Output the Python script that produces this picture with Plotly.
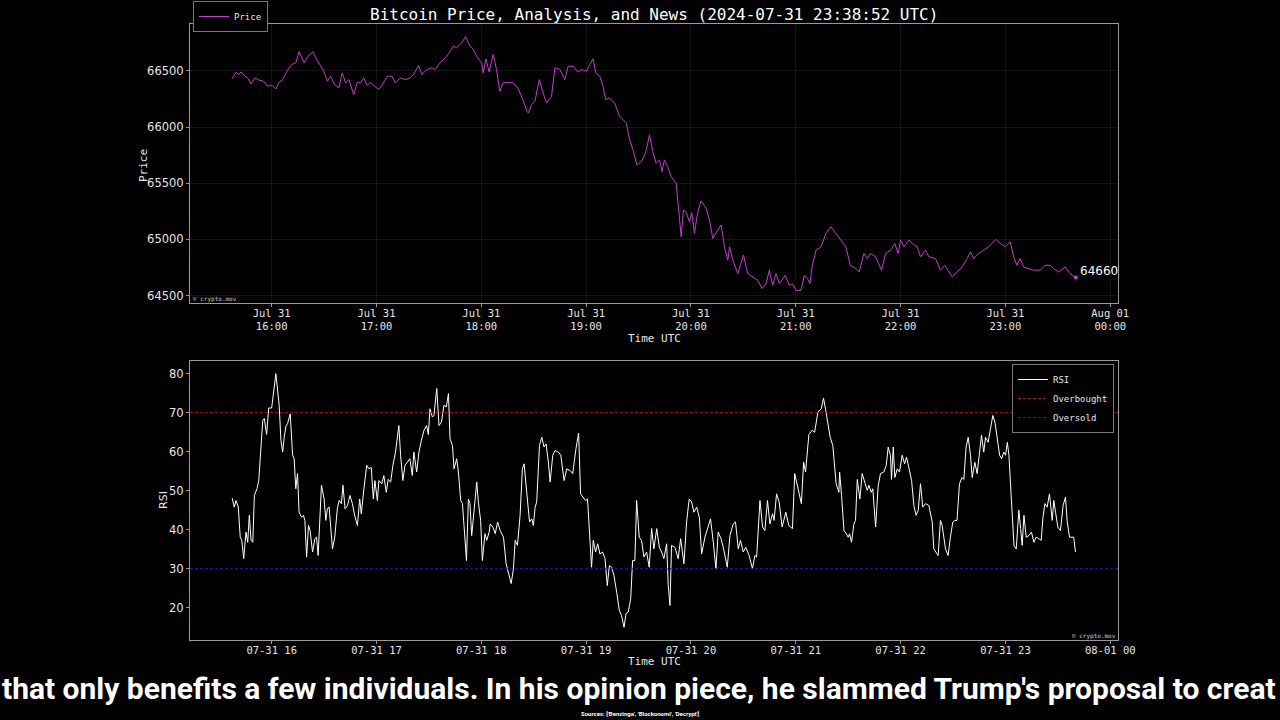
import pandas as pd
import plotly.graph_objects as go

W, H = 1280, 720
BASE = pd.Timestamp("2024-07-31 16:00")

# ---- data (minutes relative to 16:00 UTC) ----
price_min = [-22.6, -20.3, -19.0, -17.5, -15.6, -13.7, -11.8, -9.5, -7.0, -4.6, -2.3, 0.0, 2.4, 4.3, 6.3,
             9.1, 11.4, 13.8, 15.7, 18.6, 20.8, 23.7, 25.2, 27.1, 29.6, 31.9, 33.8, 36.0, 38.5, 40.4, 42.3,
             44.2, 47.0, 49.0, 50.9, 52.7, 54.7, 56.5, 59.4, 61.3, 63.2, 66.1, 68.9, 70.8, 73.6, 76.5, 79.3,
             81.2, 84.1, 86.0, 88.8, 91.7, 93.6, 96.4, 99.3, 101.7, 104.0, 105.9, 108.8, 111.0, 113.5, 115.4,
             117.3, 120.2, 121.1, 122.6, 124.5, 126.8, 128.7, 130.6, 132.5, 135.3, 138.2, 141.0, 143.8, 146.1,
             146.9, 148.8, 150.7, 153.2, 155.1, 157.3, 158.8, 160.2, 162.1, 165.0, 167.8, 169.7, 172.6, 175.4,
             177.3, 180.2, 182.1, 184.0, 185.5, 187.8, 189.7, 191.2, 193.1, 196.3, 199.2, 201.1, 203.0, 204.9,
             206.8, 209.1, 211.6, 214.0, 216.3, 218.2, 220.1, 222.0, 223.5, 224.8, 226.7, 228.6, 231.5, 233.0,
             234.4, 235.7, 237.2, 239.1, 240.5, 242.0, 243.9, 245.8, 248.7, 250.6, 252.5, 255.4, 257.3, 259.2,
             261.1, 262.1, 264.0, 266.8, 270.1, 272.5, 275.4, 278.2, 280.7, 283.0, 284.9, 286.8, 288.7, 290.6,
             294.0, 296.3, 298.2, 300.1, 303.0, 304.9, 306.8, 308.1, 309.3, 311.6, 314.4, 317.3, 320.1, 323.0,
             325.8, 328.7, 331.2, 334.4, 336.3, 339.0, 340.9, 342.8, 345.7, 349.1, 351.4, 354.3, 356.7, 358.6,
             360.0, 361.9, 364.8, 366.7, 369.5, 371.4, 374.3, 376.2, 380.0, 382.8, 385.3, 389.5, 392.4, 395.2,
             398.1, 400.0, 401.9, 404.7, 407.6, 410.4, 412.3, 414.6, 417.1, 420.0, 422.8, 424.7, 426.6, 428.5,
             430.4, 433.3, 436.1, 439.9, 442.8, 445.6, 447.5, 450.4, 454.2, 457.0, 460.3]
price_val = [66429, 66488, 66467, 66491, 66458, 66437, 66384, 66437, 66416, 66407, 66362, 66371, 66339, 66398, 66422,
             66505, 66556, 66571, 66670, 66571, 66630, 66670, 66616, 66571, 66503, 66407, 66452, 66378, 66348, 66482, 66393,
             66422, 66288, 66398, 66393, 66437, 66371, 66398, 66362, 66333, 66371, 66452, 66452, 66393, 66437, 66422, 66437,
             66467, 66550, 66467, 66512, 66527, 66512, 66571, 66616, 66661, 66720, 66705, 66750, 66804, 66720, 66690,
             66630, 66571, 66482, 66607, 66490, 66646, 66512, 66318, 66393, 66398, 66393, 66348, 66244, 66139,
             66125, 66199, 66229, 66422, 66318, 66214, 66244, 66273, 66527, 66512, 66422, 66541, 66541, 66488,
             66512, 66496, 66556, 66607, 66482, 66452, 66362, 66244, 66259, 66214, 66095, 66065, 66036, 65887,
             65797, 65663, 65693, 65768, 65931, 65782, 65678, 65708, 65603, 65708, 65648, 65559, 65500, 65261,
             65023, 65261, 65246, 65157, 65237, 65053, 65243, 65344, 65277, 65172, 65009, 65083, 65128, 64934,
             64815, 64934, 64815, 64696, 64860, 64696, 64666, 64636, 64562, 64607, 64726, 64592, 64696, 64607,
             64681, 64592, 64607, 64547, 64547, 64681, 64651, 64607, 64755, 64904, 64934, 65053, 65112, 65053,
             64994, 64934, 64770, 64741, 64710, 64875, 64830, 64875, 64845, 64726, 64875, 64904, 64964, 64875,
             64994, 64934, 64994, 64964, 64934, 64845, 64904, 64845, 64830, 64726, 64770, 64666, 64710, 64755,
             64830, 64889, 64830, 64875, 64904, 64934, 64964, 65000, 64964, 64934, 64978, 64845, 64770, 64830,
             64755, 64741, 64726, 64726, 64770, 64770, 64741, 64710, 64755, 64696, 64660]

rsi_min = [-22.6, -21.4, -20.4, -19.1, -18.0, -17.1, -16.0, -14.7, -13.7, -12.8, -11.8, -10.8, -9.9, -8.4, -7.4,
           -6.5, -5.1, -4.2, -2.9, -1.7, 0.0, 2.4, 4.3, 5.3, 6.3, 7.2, 8.2, 9.1, 10.6, 12.0, 12.9, 13.8, 14.8,
           15.7, 17.1, 18.2, 19.0, 20.0, 21.1, 22.0, 23.4, 24.7, 25.7, 26.6, 28.5, 30.0, 31.0, 31.9, 32.9, 34.8,
           36.1, 37.6, 38.6, 39.9, 40.8, 42.0, 43.4, 44.8, 46.2, 47.5, 49.1, 50.4, 51.3, 52.8, 54.4, 55.7, 57.0,
           58.2, 59.1, 60.5, 61.4, 63.0, 64.2, 65.6, 66.7, 68.1, 69.4, 70.9, 72.8, 73.8, 75.1, 76.3, 77.6, 79.1,
           80.5, 81.4, 83.0, 84.3, 85.7, 87.2, 88.7, 89.7, 90.6, 92.0, 92.9, 94.5, 95.8, 97.2, 98.6, 100.0, 101.2,
           102.1, 103.5, 104.4, 105.9, 106.9, 108.2, 109.2, 110.1, 111.5, 112.6, 113.5, 114.5, 115.8, 117.4,
           118.3, 119.6, 120.6, 122.1, 123.1, 124.5, 125.1, 126.6, 128.0, 129.3, 130.8, 132.7, 134.2, 135.5,
           137.1, 138.4, 139.4, 140.7, 142.2, 143.5, 144.5, 146.0, 147.6, 148.9, 149.8, 150.8, 151.7, 153.3,
           154.6, 155.9, 157.1, 158.4, 159.4, 160.9, 162.2, 164.1, 165.5, 167.4, 168.9, 170.8, 172.3, 174.2,
           175.7, 176.8, 178.4, 179.7, 180.8, 183.1, 184.1, 185.4, 186.6, 187.9, 189.4, 190.8, 192.1, 193.3,
           194.6, 195.9, 197.5, 199.0, 200.3, 201.7, 202.8, 204.1, 205.5, 206.6, 207.9, 208.9, 210.4, 211.7,
           213.1, 214.6, 216.1, 217.5, 218.8, 220.4, 221.9, 223.2, 224.5, 226.1, 227.0, 228.0, 228.9, 230.8,
           232.7, 234.1, 236.0, 237.5, 239.0, 240.4, 241.7, 243.3, 244.8, 246.1, 248.0, 249.9, 251.2, 252.8,
           254.3, 255.6, 257.2, 258.5, 260.8, 262.3, 264.2, 265.5, 267.1, 268.4, 269.9, 271.4, 273.3, 275.2,
           276.6, 277.6, 279.5, 281.0, 282.3, 283.8, 285.2, 286.7, 287.6, 289.0, 290.5, 292.2, 294.3, 296.0,
           298.1, 299.4, 300.7, 301.8, 303.2, 304.5, 305.6, 307.5, 309.4, 310.8, 312.7, 314.6, 315.9, 317.0,
           318.4, 319.7, 321.2, 323.1, 324.7, 325.1, 326.2, 327.6, 328.9, 330.0, 330.8, 331.9, 333.3, 334.2,
           335.2, 336.7, 338.0, 339.6, 340.9, 341.9, 343.2, 344.1, 345.7, 347.2, 348.5, 350.4, 351.8, 352.9,
           354.2, 354.8, 355.8, 356.7, 358.1, 359.4, 360.9, 362.3, 363.4, 364.7, 366.3, 367.6, 368.9, 370.1,
           371.4, 372.7, 374.3, 376.2, 378.1, 379.0, 380.4, 381.5, 382.8, 383.8, 385.7, 387.2, 388.5, 389.9,
           391.0, 392.3, 393.7, 395.2, 396.2, 397.5, 398.7, 400.0, 401.0, 402.5, 403.8, 405.2, 406.3, 407.6,
           408.6, 410.1, 411.5, 412.8, 414.0, 415.3, 416.7, 417.8, 419.1, 420.1, 421.1, 422.0, 423.5, 424.9,
           426.2, 427.7, 428.7, 429.6, 430.6, 431.9, 433.4, 434.9, 436.3, 437.6, 439.1, 440.5, 441.4, 442.6,
           443.9, 445.2, 446.8, 447.7, 448.7, 450.0, 451.5, 453.0, 454.4, 455.3, 456.7, 459.1, 460.1]
rsi_val = [48.1, 45.8, 47.5, 45.8, 38.1, 37.3, 32.6, 39.4, 36.8, 43.7, 37.3, 36.8, 48.8, 50.5, 52.6,
           59.9, 68.0, 68.5, 64.4, 71.2, 71.2, 80.0, 71.9, 62.9, 59.9, 63.7, 66.6, 67.2, 69.7, 59.1, 58.2, 50.5, 54.4,
           44.5, 43.2, 43.7, 42.4, 33.0, 41.1, 39.8, 34.3, 37.7, 38.1, 33.4, 51.4, 47.9, 42.4, 45.4, 45.8, 35.1,
           38.1, 45.4, 47.5, 46.7, 51.4, 45.4, 46.2, 48.8, 46.7, 43.7, 41.1, 47.9, 44.1, 50.5, 56.5, 55.6, 56.0,
           47.9, 52.6, 47.5, 52.6, 51.8, 53.9, 49.6, 52.9, 52.2, 56.5, 59.9, 66.7, 59.1, 52.6, 56.5, 57.3, 58.2,
           53.9, 59.9, 54.8, 59.9, 62.9, 65.5, 66.7, 64.4, 71.0, 68.9, 69.3, 76.2, 66.7, 67.6, 71.9, 71.5, 74.9,
           63.3, 61.6, 55.6, 58.2, 54.8, 47.5, 46.7, 41.1, 32.1, 47.9, 46.7, 38.5, 45.4, 52.2,
           47.1, 42.4, 32.1, 39.0, 37.3, 39.4, 41.5, 40.7, 39.0, 42.0, 39.8, 38.1, 31.3, 29.1,
           26.2, 30.0, 37.3, 36.0, 43.7, 55.6, 56.9, 49.6, 42.0, 42.8, 41.1, 45.8, 47.1, 61.6,
           63.7, 61.2, 62.0, 57.3, 52.2, 59.1, 60.3, 59.9, 59.1, 52.6, 55.6, 55.2, 54.4, 60.8,
           64.8, 49.2, 48.4, 47.5, 47.9, 30.4, 37.3, 34.3, 36.4, 33.8, 34.3, 32.6, 25.7, 30.8,
           30.4, 28.3, 24.0, 19.3, 18.0, 15.0, 18.5, 18.9, 22.3, 32.1, 32.1, 47.5, 38.1, 37.3,
           33.0, 34.3, 30.4, 40.3, 35.1, 40.3, 35.5, 34.3, 32.6, 36.4, 25.7, 20.6, 36.0, 35.5,
           32.6, 37.7, 31.3, 42.0, 47.9, 47.1, 44.5, 45.8, 43.2, 33.8, 38.1, 40.7, 42.8, 36.8,
           30.0, 39.4, 37.7, 35.5, 30.4, 38.5, 41.5, 42.0, 35.1, 37.3, 34.3, 35.5, 33.4, 30.0,
           33.4, 33.0, 47.5, 40.7, 39.8, 47.5, 41.5, 44.1, 42.4, 49.2, 47.1, 40.7, 44.5, 41.1,
           40.3, 54.4, 51.8, 50.1, 46.7, 57.3, 54.8, 64.4, 65.5, 65.0, 70.2, 71.0, 73.7, 71.0,
           67.2, 63.7, 61.6, 51.8, 49.6, 54.8, 48.8, 39.8, 39.0, 38.1, 39.0, 36.8, 41.5, 42.4,
           52.9, 47.9, 54.4, 51.8, 50.1, 51.4, 49.6, 50.5, 40.7, 51.4, 54.4, 54.8, 56.5, 61.2,
           59.1, 52.9, 61.2, 53.4, 55.6, 54.8, 59.1, 56.9, 58.6, 56.0, 52.6, 46.2, 43.7, 45.0,
           51.8, 45.8, 46.7, 46.2, 42.0, 35.1, 34.3, 33.4, 42.4, 41.1, 35.1, 33.4, 38.1, 42.0,
           42.4, 42.4, 51.8, 53.4, 52.9, 61.2, 63.7, 59.1, 53.4, 57.3, 54.4, 59.9, 64.2, 59.9,
           63.7, 62.4, 65.5, 69.3, 67.6, 63.7, 59.1, 58.2, 59.9, 59.1, 62.4, 59.1, 47.9, 36.0,
           35.1, 45.0, 40.3, 36.0, 43.7, 38.1, 38.5, 39.4, 36.8, 38.1, 37.7, 37.3, 42.8, 46.7,
           45.8, 49.2, 42.4, 47.5, 44.5, 40.7, 39.8, 46.2, 48.4, 42.4, 38.1, 38.1, 34.3]

overbought = 70
oversold = 30
tick_times = ["2024-07-31 16:00", "2024-07-31 17:00", "2024-07-31 18:00", "2024-07-31 19:00",
              "2024-07-31 20:00", "2024-07-31 21:00", "2024-07-31 22:00", "2024-07-31 23:00",
              "2024-08-01 00:00"]
title_text = "Bitcoin Price, Analysis, and News (2024-07-31 23:38:52 UTC)"
caption = "that only benefits a few individuals. In his opinion piece, he slammed Trump's proposal to creat"
sources = "Sources: ['Benzinga', 'Blockonomi', 'Decrypt']"

# ---- derived ----
px_t = [BASE + pd.Timedelta(minutes=m) for m in price_min]
rsi_t = [BASE + pd.Timedelta(minutes=m) for m in rsi_min]
t0, t1 = min(px_t[0], rsi_t[0]), max(px_t[-1], rsi_t[-1])
span = t1 - t0
xr = [t0 - span * 0.05, t1 + span * 0.05]
pmin, pmax = min(price_val), max(price_val)
yr1 = [pmin - 0.05 * (pmax - pmin), pmax + 0.05 * (pmax - pmin)]
rmin, rmax = min(rsi_val), max(rsi_val)
yr2 = [rmin - 0.05 * (rmax - rmin), rmax + 0.05 * (rmax - rmin)]
ticks = [pd.Timestamp(s) for s in tick_times]
top_txt = [t.strftime("%b %d") + "<br>" + t.strftime("%H:%M") for t in ticks]
bot_txt = [t.strftime("%m-%d %H") for t in ticks]

MONO = "DejaVu Sans Mono"
SANS = "DejaVu Sans"
FG = "#e6e6e6"
PURPLE = "#c23fcc"

def fx(p):
    return p / W

def fy(p):
    return 1 - p / H

fig = go.Figure()
fig.add_trace(go.Scatter(x=px_t, y=price_val, mode="lines", name="Price",
                         line=dict(color=PURPLE, width=1), xaxis="x", yaxis="y", legend="legend"))
fig.add_trace(go.Scatter(x=[px_t[-1]], y=[price_val[-1]], mode="markers", showlegend=False,
                         marker=dict(color=PURPLE, size=4), xaxis="x", yaxis="y"))
fig.add_trace(go.Scatter(x=rsi_t, y=rsi_val, mode="lines", name="RSI",
                         line=dict(color="white", width=1), xaxis="x2", yaxis="y2", legend="legend2"))
fig.add_trace(go.Scatter(x=xr, y=[overbought, overbought], mode="lines", name="Overbought",
                         line=dict(color="#b01818", width=1, dash="3px,2px"), xaxis="x2", yaxis="y2",
                         legend="legend2"))
fig.add_trace(go.Scatter(x=xr, y=[oversold, oversold], mode="lines", name="Oversold",
                         line=dict(color="#2424c8", width=1, dash="3px,2px"), xaxis="x2", yaxis="y2",
                         legend="legend2"))

axis_common = dict(showline=True, linecolor="#9a9a9a", linewidth=1, mirror=True, automargin=False,
                   ticks="outside", ticklen=3, tickcolor="#9a9a9a", zeroline=False)

fig.update_layout(
    width=W, height=H, autosize=False, paper_bgcolor="black", plot_bgcolor="black",
    margin=dict(l=0, r=0, t=0, b=0, autoexpand=False),
    xaxis=dict(domain=[fx(190), fx(1118)], range=xr, type="date", anchor="y",
               tickvals=ticks, ticktext=top_txt, tickfont=dict(family=MONO, size=10.5, color=FG),
               ticklabelstandoff=-3,
               showgrid=True, gridcolor="#141414", gridwidth=1, **axis_common),
    yaxis=dict(domain=[fy(303), fy(24)], range=yr1, anchor="x", dtick=500, tickformat="d",
               tickfont=dict(family=SANS, size=11.5, color=FG),
               showgrid=True, gridcolor="#141414", gridwidth=1, **axis_common),
    xaxis2=dict(domain=[fx(190), fx(1118)], range=xr, type="date", anchor="y2",
                tickvals=ticks, ticktext=bot_txt, tickfont=dict(family=MONO, size=10.5, color=FG),
                ticklabelstandoff=-3,
                showgrid=False, **axis_common),
    yaxis2=dict(domain=[fy(640), fy(361)], range=yr2, anchor="x2", dtick=10,
                tickfont=dict(family=SANS, size=11.5, color=FG), showgrid=False, **axis_common),
    legend=dict(x=fx(193), y=fy(1), xanchor="left", yanchor="top", bgcolor="black",
                bordercolor="#777", borderwidth=1, font=dict(family=MONO, size=9, color=FG),
                itemwidth=30, tracegroupgap=0),
    legend2=dict(x=fx(1114), y=fy(364), xanchor="right", yanchor="top", bgcolor="black",
                 bordercolor="#777", borderwidth=1, font=dict(family=MONO, size=9, color=FG),
                 itemwidth=30, tracegroupgap=0),
    showlegend=True,
)

ann = [
    dict(text=title_text, x=fx(654), y=fy(14), xanchor="center", yanchor="middle",
         font=dict(family=MONO, size=16, color="white")),
    dict(text="Price", x=fx(143), y=fy(166), textangle=-90, xanchor="center", yanchor="middle",
         font=dict(family=MONO, size=11, color=FG)),
    dict(text="Time UTC", x=fx(654), y=fy(338), xanchor="center", yanchor="middle",
         font=dict(family=MONO, size=11, color=FG)),
    dict(text="RSI", x=fx(163), y=fy(500), textangle=-90, xanchor="center", yanchor="middle",
         font=dict(family=SANS, size=11, color=FG)),
    dict(text="Time UTC", x=fx(654), y=fy(661), xanchor="center", yanchor="middle",
         font=dict(family=MONO, size=11, color=FG)),
    dict(text="© crypto.mov", x=fx(191), y=fy(299), xanchor="left", yanchor="middle",
         font=dict(family=MONO, size=6, color="#cccccc")),
    dict(text="© crypto.mov", x=fx(1118), y=fy(636), xanchor="right", yanchor="middle",
         font=dict(family=MONO, size=6, color="#cccccc")),
    dict(text=caption, x=fx(639), y=fy(688), xanchor="center", yanchor="middle",
         font=dict(family="Roboto, sans-serif", size=30, color="white", weight="bold")),
    dict(text=sources, x=fx(640), y=fy(713), xanchor="center", yanchor="middle",
         font=dict(family="Roboto, sans-serif", size=6, color="white", weight="bold")),
]
for a in ann:
    a.update(xref="paper", yref="paper", showarrow=False)
# last-price label next to the final point (data coordinates)
ann.append(dict(text=str(price_val[-1]), x=px_t[-1], y=price_val[-1], xref="x", yref="y",
                xanchor="left", yanchor="middle", xshift=2, yshift=7, showarrow=False,
                font=dict(family=SANS, size=12, color="white")))
fig.update_layout(annotations=ann)

fig.write_html("out.html")
